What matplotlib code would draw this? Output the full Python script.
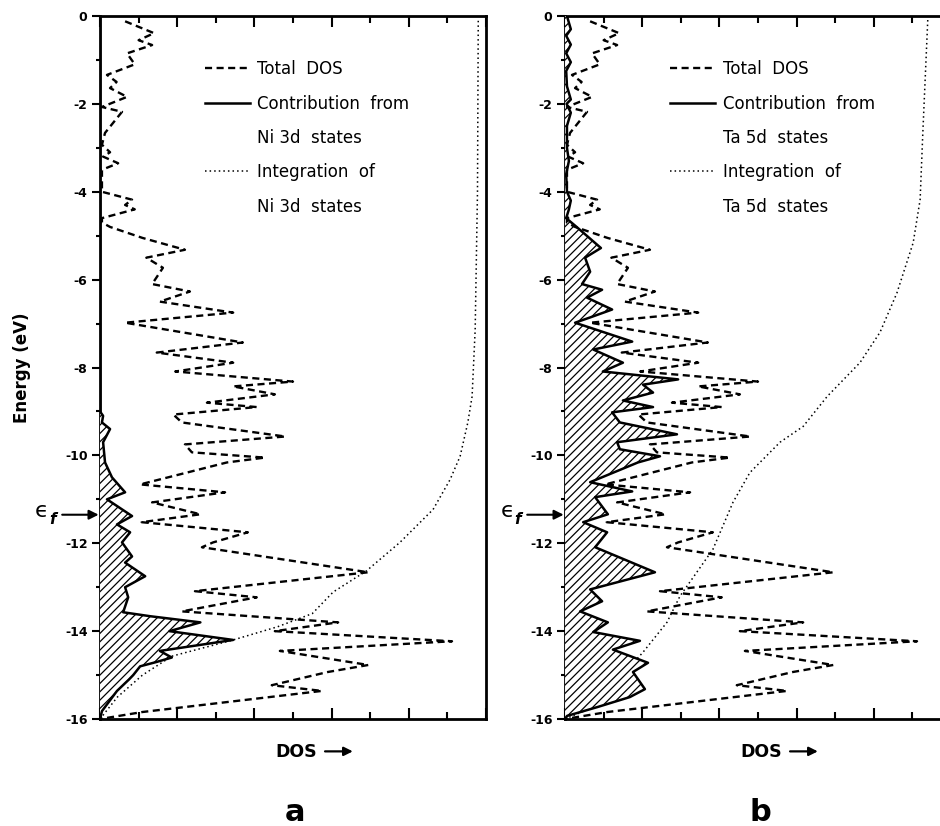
import numpy as np
import matplotlib
matplotlib.use("Agg")
import matplotlib.pyplot as plt

plt.rcParams['font.family'] = ['DejaVu Sans']
plt.rcParams['axes.unicode_minus'] = False
plt.rcParams['hatch.linewidth'] = 0.9

# total DOS (same curve in both panels), energy in eV
E_tot = [-0.12, -0.39, -0.55, -0.66, -0.85, -1.1, -1.34, -1.5, -1.64, -1.84,
         -2.07, -2.18, -2.66, -2.93, -3.1, -3.2, -3.35, -3.5, -4.0, -4.18,
         -4.3, -4.4, -4.6, -4.7, -4.8, -5.05, -5.32, -5.5, -5.73, -6.1,
         -6.27, -6.5, -6.75, -6.98, -7.43, -7.66, -7.89, -8.09, -8.32, -8.43,
         -8.61, -8.8, -8.9, -9.07, -9.25, -9.57, -9.75, -9.93, -10.05, -10.16,
         -10.66, -10.84, -11.07, -11.34, -11.52, -11.75, -11.98, -12.09, -12.66, -13.09,
         -13.23, -13.55, -13.8, -14.0, -14.23, -14.45, -14.77, -14.93, -15.23, -15.36,
         -15.84, -16.0]
dos_tot = [0.65, 1.4, 1.0, 1.35, 0.7, 0.9, 0.18, 0.43, 0.26, 0.7,
           0.05, 0.57, 0.13, 0.05, 0.26, 0.08, 0.47, 0.05, 0.05, 0.83,
           0.65, 0.9, 0.05, 0.05, 0.26, 1.1, 2.2, 1.2, 1.63, 1.35,
           2.33, 1.55, 3.45, 0.65, 3.7, 1.47, 3.45, 1.95, 5.0, 3.45,
           4.53, 2.77, 4.06, 1.9, 2.12, 4.8, 2.2, 2.38, 4.27, 3.29,
           1.04, 3.24, 1.35, 2.6, 1.08, 3.83, 2.93, 2.64, 6.95, 2.46,
           4.06, 2.12, 6.17, 4.53, 9.12, 4.66, 6.95, 5.9, 4.45, 5.75,
           1.1, 0.0]

# Ni 3d contribution
E_ni = [0.0, -9.0, -9.1, -9.25, -9.4, -9.7, -10.16, -10.5, -10.84, -11.0,
        -11.38, -11.57, -11.75, -11.98, -12.3, -12.44, -12.75, -13.0, -13.23, -13.57,
        -13.66, -13.8, -14.0, -14.2, -14.45, -14.6, -14.7, -14.8, -15.0, -15.1,
        -15.36, -15.82, -16.0]
dos_ni = [0.0, 0.0, 0.08, 0.05, 0.26, 0.08, 0.13, 0.31, 0.65, 0.18,
          0.83, 0.44, 0.78, 0.57, 0.83, 0.65, 1.17, 0.65, 0.73, 0.6,
          1.3, 2.6, 1.8, 3.45, 1.55, 1.86, 1.47, 1.04, 0.86, 0.75,
          0.44, 0.05, 0.0]

# integrated Ni 3d states
E_int_ni = [-16.0, -15.5, -15.0, -14.57, -14.2, -13.9, -13.6, -13.11, -12.63, -11.98,
            -11.23, -10.55, -10.02, -9.25, -8.66, -7.14, -4.0, -0.05]
int_ni = [0.0, 0.45, 1.1, 1.86, 3.45, 4.6, 5.5, 6.04, 6.9, 7.77,
          8.63, 9.07, 9.33, 9.53, 9.64, 9.72, 9.78, 9.8]

# Ta 5d contribution
E_ta = [0.0, -0.3, -0.45, -0.65, -0.85, -1.05, -1.25, -1.6, -1.9, -2.0,
        -2.2, -2.5, -3.0, -3.3, -3.6, -4.0, -4.2, -4.4, -4.6, -4.8,
        -5.28, -5.5, -5.82, -6.1, -6.23, -6.41, -6.68, -6.86, -6.98, -7.41,
        -7.59, -7.89, -8.09, -8.27, -8.39, -8.57, -8.75, -8.9, -9.02, -9.25,
        -9.52, -9.7, -9.86, -10.02, -10.16, -10.61, -10.82, -10.95, -11.34, -11.52,
        -11.75, -12.09, -12.66, -13.05, -13.32, -13.55, -13.8, -14.02, -14.22, -14.42,
        -14.72, -14.93, -15.32, -15.5, -15.73, -15.93, -16.0]
dos_ta = [0.05, 0.15, 0.03, 0.15, 0.03, 0.15, 0.03, 0.05, 0.15, 0.04,
          0.15, 0.05, 0.05, 0.1, 0.03, 0.05, 0.15, 0.1, 0.03, 0.3,
          0.93, 0.52, 0.65, 0.44, 0.96, 0.57, 1.22, 0.65, 0.26, 1.74,
          0.73, 1.5, 0.98, 2.93, 2.02, 2.28, 1.5, 2.28, 1.22, 1.42,
          2.9, 1.35, 1.42, 2.46, 1.89, 0.65, 1.74, 0.78, 1.11, 0.47,
          1.09, 0.78, 2.33, 0.65, 0.96, 0.39, 1.11, 0.73, 1.94, 1.24,
          2.15, 1.76, 2.07, 1.68, 0.83, 0.05, 0.0]

# integrated Ta 5d states
E_int_ta = [-16.0, -15.73, -14.48, -13.8, -13.2, -12.14, -11.07, -10.39, -9.7, -9.34,
            -8.66, -7.89, -7.2, -6.3, -5.16, -4.18, -2.66, -0.05]
int_ta = [0.0, 0.73, 2.02, 2.64, 2.98, 3.83, 4.35, 4.79, 5.57, 6.17,
          6.79, 7.64, 8.16, 8.6, 9.02, 9.2, 9.27, 9.4]

E_fermi = -11.35

panels = [
    dict(pos=[0.1064, 0.1295, 0.4106, 0.8511], E=E_ni, dos=dos_ni,
         Ei=E_int_ni, di=int_ni, elem="Ni 3d", tag="a", ylabel=True),
    dict(pos=[0.6011, 0.1295, 0.4106, 0.8511], E=E_ta, dos=dos_ta,
         Ei=E_int_ta, di=int_ta, elem="Ta 5d", tag="b", ylabel=False),
]

fig = plt.figure(figsize=(9.4, 8.26), dpi=100)

for p in panels:
    ax = fig.add_axes(p["pos"])
    ax.set_xlim(0, 10)
    ax.set_ylim(-16, 0)

    l_int, = ax.plot(p["di"], p["Ei"], color="black", lw=1.1,
                     linestyle=(0, (1, 2.0)), zorder=2)
    ax.fill_betweenx(p["E"], 0, p["dos"], facecolor="white", edgecolor="black",
                     hatch="////", linewidth=0, zorder=3)
    l_sol, = ax.plot(p["dos"], p["E"], color="black", lw=1.8, zorder=4)
    l_tot, = ax.plot(dos_tot, E_tot, color="black", lw=1.7,
                     dashes=(3.0, 1.9), zorder=5)

    blank, = ax.plot([], [], color="none")
    handles = [l_tot, l_sol, blank, l_int, blank]
    labels = ["Total  DOS", "Contribution  from", p["elem"] + "  states",
              "Integration  of", p["elem"] + "  states"]
    ax.legend(handles, labels, loc="upper left", bbox_to_anchor=(0.272, 0.937),
              frameon=False, fontsize=12, handlelength=2.7, handletextpad=0.45,
              labelspacing=0.98, borderpad=0, borderaxespad=0)

    for s in ax.spines.values():
        s.set_linewidth(2.0)

    ax.set_xticks(np.arange(0, 11, 2))
    ax.set_xticks(np.arange(1, 10, 2), minor=True)
    ax.set_yticks(np.arange(-16, 1, 2))
    ax.set_yticks(np.arange(-15, 0, 2), minor=True)
    ax.tick_params(axis="x", which="both", direction="in", top=True, bottom=True,
                   labelbottom=False, width=1.5)
    ax.tick_params(axis="x", which="major", length=8)
    ax.tick_params(axis="x", which="minor", length=5)
    ax.tick_params(axis="y", which="both", direction="out", left=True, right=False,
                   width=1.5, pad=3)
    ax.tick_params(axis="y", which="major", length=6, labelsize=9)
    ax.tick_params(axis="y", which="minor", length=3)
    ax.set_yticklabels(["%d" % v for v in np.arange(-16, 1, 2)], fontweight="bold")

    if p["ylabel"]:
        ax.text(-0.202, 0.5, "Energy (eV)", transform=ax.transAxes, rotation=90,
                ha="center", va="center", fontsize=12, fontweight="bold")

    # Fermi level marker
    ax.annotate("", xy=(0, E_fermi), xytext=(-0.98, E_fermi),
                arrowprops=dict(arrowstyle="-|>", color="black", lw=1.5,
                                shrinkA=0, shrinkB=1, mutation_scale=14),
                annotation_clip=False)
    ax.text(-1.5, E_fermi + 0.08, "\u03f5", fontsize=16, ha="center",
            va="center", clip_on=False)
    ax.text(-1.22, E_fermi - 0.12, "f", fontsize=11, fontstyle="italic",
            fontweight="bold", ha="center", va="center", clip_on=False)

    # x label with a drawn arrow
    ax.text(0.508, -0.047, "DOS", transform=ax.transAxes, ha="center",
            va="center", fontsize=12.5, fontweight="bold")
    ax.annotate("", xy=(0.655, -0.046), xytext=(0.583, -0.046),
                xycoords="axes fraction", textcoords="axes fraction",
                arrowprops=dict(arrowstyle="-|>", color="black", lw=1.6,
                                shrinkA=0, shrinkB=0, mutation_scale=13),
                annotation_clip=False)
    ax.text(0.505, -0.145, p["tag"], transform=ax.transAxes, ha="center",
            va="baseline", fontsize=22, fontweight="bold")

fig.savefig("out.png", dpi=100)
